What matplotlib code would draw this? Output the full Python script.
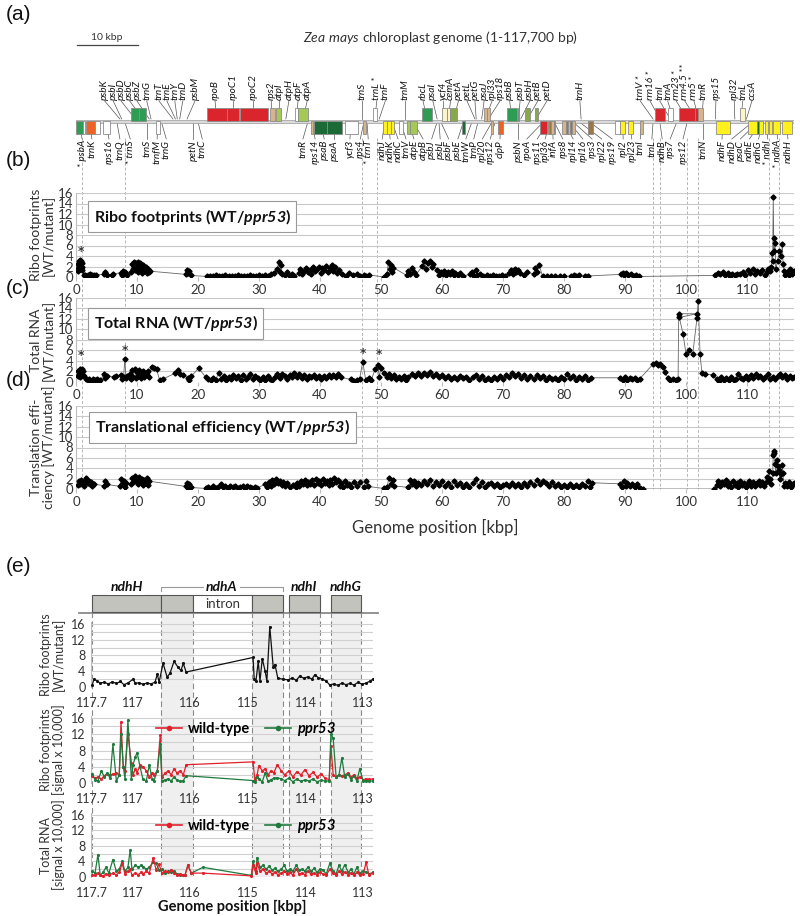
import matplotlib
matplotlib.use("Agg")
import matplotlib.pyplot as plt
from matplotlib.patches import Rectangle
from matplotlib.lines import Line2D
from matplotlib.transforms import blended_transform_factory

plt.rcParams["font.family"] = ["Lato", "DejaVu Sans"]
plt.rcParams["mathtext.fontset"] = "custom"
plt.rcParams["mathtext.rm"] = "Lato"
plt.rcParams["mathtext.it"] = "Lato:italic"
plt.rcParams["mathtext.bf"] = "Lato:bold"
plt.rcParams["mathtext.bfit"] = "Lato:bold:italic"

# ---------- GENE MAP (kbp) ----------

GENOME_LEN = 117.7

up_box_start = [9.0, 10.4, 21.5, 24.7, 26.9, 31.8, 32.8, 35.9, 36.4, 48.7, 56.7, 60.0, 60.8, 61.3, 66.9, 67.4,
                70.6, 72.4, 73.6, 75.2, 94.9, 97.0, 98.9, 101.5, 102.0, 108.8]
up_box_end = [10.4, 11.5, 24.7, 26.7, 31.5, 32.6, 33.6, 36.4, 38.0, 49.3, 58.4, 60.8, 61.3, 62.5, 67.4, 67.9,
              72.3, 72.7, 74.4, 75.7, 96.6, 97.9, 101.5, 101.9, 102.8, 109.7]
up_box_col = ["G", "G", "R", "R", "R", "T", "LG", "W", "LG", "W", "G", "LY", "LY", "OL", "T", "T",
              "G", "DG", "OL", "OL", "R", "W", "R", "R", "T", "LY"]

lo_box_start = [0.0, 1.2, 1.6, 3.1, 4.4, 13.1, 38.5, 39.0, 41.1, 44.1, 47.0, 50.3, 50.9, 51.6, 52.9, 54.2,
                54.8, 63.3, 68.1, 69.2, 76.1, 77.3, 77.6, 77.9, 78.3, 79.7, 80.3, 80.6, 81.0, 81.3, 83.9,
                88.4, 89.2, 90.5, 92.5, 104.9, 110.2, 111.7, 112.0, 112.9, 113.6, 114.3, 115.7]
lo_box_end = [1.1, 1.5, 3.1, 3.9, 5.6, 13.8, 38.9, 41.1, 43.6, 46.2, 47.5, 50.9, 51.6, 52.1, 53.6, 54.8,
              55.9, 63.8, 68.4, 70.0, 77.2, 77.6, 77.9, 78.3, 78.6, 80.3, 80.6, 81.0, 81.3, 81.8, 84.7,
              89.2, 90.0, 91.3, 93.0, 107.2, 111.6, 111.9, 112.6, 113.4, 114.1, 115.4, 117.4]
lo_box_col = ["G", "W", "O", "W", "W", "W", "T", "DG", "DG", "W", "T", "Y", "Y", "Y", "W", "LG",
              "LG", "DG", "T", "O", "R", "T", "BR", "T", "BR", "T", "BR", "T", "BR", "T", "BR",
              "W", "Y", "Y", "T", "Y", "Y", "DG", "Y", "Y", "Y", "Y", "Y"]

up_names = ["psbK", "psbI", "psbD", "psbC", "psbZ", "trnG", "trnT", "trnE", "trnY", "trnD", "psbM", "rpoB",
            "rpoC1", "rpoC2", "rps2", "atpI", "atpH", "atpF", "atpA", "trnS", "trnL *", "trnF", "trnM",
            "rbcL", "psaI", "ycf4", "cemA", "petA", "petL", "petG", "psaJ", "rpl33", "rps18", "psbB",
            "psbT", "psbH", "petB", "petD", "trnH", "trnV *", "rrn16 *", "trnI", "trnA", "rrn23 *",
            "rrn4.5 **", "rrn5 *", "trnR", "rps15", "rpl32", "trnL", "ccsA"]
up_label_x = [4.7, 6.1, 7.4, 8.8, 10.0, 11.6, 13.6, 14.9, 16.2, 17.5, 19.5, 22.8, 25.7, 29.0, 32.0, 33.4,
              34.9, 36.4, 37.9, 46.9, 49.3, 50.7, 53.9, 56.9, 58.5, 60.2, 61.4, 62.7, 64.1, 65.4, 66.9,
              68.2, 69.5, 71.1, 72.8, 74.4, 75.7, 77.2, 82.6, 92.5, 94.1, 95.7, 97.0, 98.4, 99.8, 101.3,
              102.8, 104.9, 107.9, 109.3, 110.8]
up_gene_x = [7.2, 7.5, 9.7, 11.0, 12.0, 12.3, 15.9, 16.3, 16.6, 17.0, 18.2, 23.0, 25.7, 29.0, 32.2, 33.2,
             34.4, 36.1, 37.2, 46.9, 49.0, 49.7, 53.9, 57.5, 59.2, 60.4, 61.0, 61.9, 65.4, 65.6, 66.5,
             67.1, 67.6, 71.4, 72.5, 72.9, 74.0, 75.4, 82.8, 94.6, 95.7, 97.4, 97.9, 100.2, 101.7, 102.1,
             102.6, 104.8, 108.0, 109.0, 109.9]

lo_names = ["* psbA", "trnK", "rps16", "trnQ", "* trnS", "trnS", "trnfM", "trnG", "petN", "trnC", "trnR",
            "rps14", "psaB", "psaA", "ycf3", "rps4", "* trnT", "ndhJ", "ndhK", "ndhC", "trnV", "atpE",
            "atpB", "psbJ", "psbL", "psbF", "psbE", "trnW", "trnP", "rpl20", "rps12", "clpP", "psbN",
            "rpoA", "rps11", "rpl36", "infA", "rps8", "rpl14", "rpl16", "rps3", "rpl22", "rps19", "rpl2",
            "rpl23", "trnI", "trnL", "ndhB", "rps7", "rps12", "trnN", "ndhF", "ndhD", "psaC", "ndhE",
            "ndhG", "* ndhI", "* ndhA", "ndhH"]
lo_label_x = [1.0, 2.6, 5.4, 7.2, 8.9, 11.6, 13.3, 14.8, 19.2, 20.7, 37.2, 39.2, 40.7, 42.3, 44.9, 46.6,
              47.9, 50.2, 51.5, 52.8, 54.1, 55.4, 56.9, 58.3, 59.7, 61.1, 62.6, 63.9, 65.2, 66.6, 67.9,
              69.5, 72.5, 73.9, 75.6, 76.9, 78.2, 79.8, 81.5, 83.1, 84.6, 86.2, 87.9, 89.7, 91.1, 92.5,
              94.4, 96.1, 97.4, 99.5, 102.8, 105.9, 107.5, 108.9, 110.4, 111.9, 113.4, 115.0, 116.7]
lo_gene_x = [0.5, 2.3, 5.0, 6.7, 8.0, 11.6, 13.4, 14.0, 19.2, 20.0, 38.0, 38.7, 40.0, 42.3, 45.1, 47.2,
             47.7, 50.6, 51.2, 51.8, 53.2, 54.5, 55.3, 59.2, 59.5, 59.8, 63.5, 64.9, 65.9, 68.2, 68.7,
             69.6, 72.5, 76.6, 77.4, 77.7, 78.1, 78.4, 80.0, 80.8, 81.5, 82.5, 84.2, 89.6, 90.9, 92.7,
             94.6, 95.7, 98.5, 100.2, 102.8, 106.0, 110.9, 111.8, 112.3, 112.5, 113.2, 114.8, 116.5]

guide_x = [1.0, 8.0, 46.9, 49.3, 94.6, 95.7, 100.2, 102.0, 113.6, 115.2]

GENE_COLORS = {"G": "#2e9c52", "DG": "#1c6b36", "R": "#d9252b", "O": "#ee6325", "T": "#d8b48a",
               "LG": "#a5c956", "OL": "#88a94a", "Y": "#fff01e", "LY": "#fbf5c9", "BR": "#9c7549",
               "W": "white"}

# ---------- (b) RIBO FOOTPRINTS WT/ppr53 ----------

ribo_pos = [0.3, 0.35, 0.4, 0.45, 0.5, 0.55, 0.6, 0.65, 0.7, 0.75, 0.8, 0.85, 0.9, 0.95, 1.0, 1.05,
            1.3, 1.5, 1.7, 1.9, 2.1, 2.3, 2.5, 2.7, 2.9, 3.1, 3.3,
            4.6, 4.8, 5.0, 5.9, 6.1, 7.3, 7.5, 7.7, 7.9, 8.1, 8.3,
            9.0, 9.2, 9.4, 9.5, 9.6, 9.7, 9.8, 9.9, 10.0, 10.1, 10.2, 10.3,
            10.4, 10.5, 10.6, 10.7, 10.8, 10.9, 11.0, 11.2, 11.4, 11.6, 11.8, 12.0, 12.2,
            18.0, 18.2, 18.4, 18.6, 18.8,
            21.5, 22.0, 22.5, 23.0, 23.5, 24.0, 24.5, 25.0, 25.5, 26.0, 26.5, 27.0,
            27.5, 28.0, 28.5, 29.0, 29.5, 30.0, 30.5, 31.0, 31.5, 32.0, 32.5,
            33.0, 33.2, 33.4, 33.6, 33.8, 34.2, 34.6, 35.0, 35.4, 35.8,
            36.5, 36.8, 37.1, 37.4, 37.7, 38.0, 38.3, 38.6, 38.9, 39.2, 39.5, 39.8,
            40.1, 40.4, 40.7, 41.0, 41.3, 41.6, 41.9, 42.2, 42.5, 42.8, 43.1,
            43.6, 44.2, 44.8, 45.4, 46.0, 46.6, 47.2, 47.6, 48.0, 50.5,
            51.0, 51.2, 51.4, 51.6, 51.8, 52.0, 54.2, 54.5, 54.8, 55.1, 55.4, 55.7,
            56.8, 57.1, 57.4, 57.7, 58.0, 58.3, 58.6,
            59.2, 59.5, 59.8, 60.1, 60.4, 60.7, 61.0, 61.3, 61.6, 61.9, 62.2, 62.6, 63.0, 63.4,
            64.6, 64.9, 65.2, 65.5, 65.8, 66.3, 66.8, 67.3, 67.8, 68.3, 68.8, 69.3, 69.8, 70.3,
            71.0, 71.3, 71.6, 71.9, 72.2, 72.5, 72.8, 73.5, 74.0, 75.0, 75.3, 75.6, 75.9,
            76.5, 77.2, 77.9, 78.6, 79.3, 80.0, 81.2, 81.6, 82.0, 82.4, 83.4, 84.0,
            89.3, 89.6, 89.9, 90.2, 90.5, 91.0, 91.4, 91.8, 92.3,
            104.8, 105.2, 105.6, 106.0, 106.4, 106.8, 107.2, 107.6, 108.0, 108.4,
            108.9, 109.3, 109.7, 110.1, 110.5, 110.9, 111.3, 111.7, 112.1, 112.5, 112.9,
            113.2, 113.5, 113.8, 114.0, 114.1, 114.2, 114.3, 114.4, 114.5, 114.6, 114.7,
            115.0, 115.3, 115.6, 115.8, 115.9, 116.1, 116.3, 116.6, 116.9, 117.1, 117.3, 117.5, 117.7]
ribo_val = [1.2, 2.4, 1.8, 3.0, 2.1, 2.7, 1.5, 3.3, 2.2, 2.9, 1.7, 2.5, 3.1, 1.9, 2.6, 1.3,
            0.4, 0.3, 0.2, 0.4, 0.3, 0.5, 0.2, 0.3, 0.4, 0.2, 0.3,
            0.6, 1.0, 0.4, 0.3, 0.6, 0.8, 0.3, 1.2, 0.6, 1.0, 0.4,
            1.0, 2.5, 1.6, 2.9, 2.0, 1.3, 2.7, 1.8, 2.3, 0.9, 2.8, 1.5,
            2.1, 2.6, 1.2, 2.4, 1.9, 0.8, 2.2, 1.4, 2.0, 0.7, 1.6, 0.9, 1.1,
            0.5, 1.4, 0.8, 1.2, 0.3,
            0.1, 0.2, 0.1, 0.3, 0.1, 0.2, 0.3, 0.1, 0.2, 0.1, 0.3, 0.2,
            0.1, 0.2, 0.3, 0.1, 0.2, 0.3, 0.2, 0.3, 0.2, 0.5, 0.8,
            1.5, 2.8, 1.0, 2.2, 0.6, 0.3, 1.0, 0.2, 0.6, 0.1,
            0.8, 1.5, 0.6, 1.2, 1.8, 0.9, 1.4, 0.5, 1.9, 1.1, 1.6, 2.0,
            0.7, 1.8, 1.3, 2.1, 0.9, 1.7, 2.2, 1.2, 1.9, 0.8, 1.4,
            0.6, 0.2, 0.8, 0.3, 0.5, 0.2, 0.3, 0.1, 0.4, 0.0,
            0.6, 2.9, 1.5, 2.3, 0.9, 1.8, 0.3, 1.2, 0.6, 1.7, 0.9, 0.4,
            2.1, 3.0, 1.6, 2.6, 3.0, 2.0, 2.4,
            1.3, 0.4, 1.0, 0.6, 1.2, 0.3, 0.9, 0.5, 1.1, 0.4, 0.8, 0.3, 0.7, 0.2,
            0.5, 1.0, 0.2, 1.3, 0.3, 0.6, 0.2, 0.4, 0.1, 0.3, 0.2, 0.1, 0.3, 0.2,
            0.8, 1.4, 0.6, 1.6, 1.0, 1.3, 0.7, 0.4, 0.9, 0.6, 1.8, 1.0, 2.3,
            0.1, 0.1, 0.1, 0.1, 0.1, 0.1, 0.2, 0.4, 0.1, 0.3, 0.1, 0.2,
            0.5, 0.8, 0.3, 0.7, 0.4, 0.6, 0.2, 0.4, 0.1,
            0.3, 0.8, 0.5, 0.9, 0.4, 0.7, 0.2, 0.6, 0.3, 0.5,
            0.6, 1.0, 0.3, 1.3, 0.8, 1.5, 0.5, 1.2, 0.7, 1.4, 0.4,
            1.0, 1.5, 1.2, 2.0, 4.5, 3.0, 15.3, 5.0, 7.4, 6.5, 1.5,
            3.0, 5.0, 4.0, 6.3, 2.5, 1.2, 0.4, 1.0, 0.3, 1.5, 0.5, 0.9, 1.2]

# ---------- (c) TOTAL RNA WT/ppr53 ----------

rna_pos = [0.3, 0.4, 0.5, 0.6, 0.7, 0.8, 0.9, 1.0, 1.1, 1.2, 1.3,
           1.6, 1.9, 2.2, 2.5, 2.8, 3.1, 3.4, 3.7, 4.0,
           4.6, 4.8, 5.0, 6.2, 6.6, 7.4, 7.6, 7.8, 8.0, 8.2, 8.4,
           8.8, 9.0, 9.2, 9.4, 9.6, 9.8, 10.0, 10.2, 10.4,
           10.6, 10.8, 11.0, 11.2, 11.4, 11.6, 11.8, 12.0,
           12.4, 12.8, 13.2, 13.7, 14.3, 16.3, 16.7, 17.1, 17.6, 18.3, 18.6, 18.9, 20.1,
           21.3, 21.7, 22.1, 22.5, 22.9, 23.4, 23.8, 24.2, 24.6, 25.0, 25.4, 25.8,
           26.2, 26.6, 27.0, 27.4, 27.8, 28.2, 28.6, 29.0, 29.4, 29.8, 30.2, 30.6,
           31.0, 31.4, 31.8, 32.2, 32.6, 33.0, 33.4, 33.8, 34.2, 34.6, 35.0, 35.4,
           35.8, 36.2, 36.6, 37.0, 37.4, 37.8, 38.2, 38.6, 39.0, 39.4, 39.8, 40.2,
           40.6, 41.0, 41.4, 41.8, 42.2, 42.6, 43.0, 43.4,
           45.0, 45.5, 46.0, 46.5, 47.0, 47.5, 48.0, 48.4, 49.0, 49.5, 49.7, 50.0,
           50.5, 50.9, 51.3, 51.7, 52.1, 52.5, 52.9, 53.3, 53.7, 54.1,
           54.5, 55.0, 55.5, 56.0, 56.5, 57.0, 57.5, 58.0, 58.5, 59.0, 59.5, 60.0,
           60.5, 61.0, 61.5, 62.0, 62.5, 63.0, 63.5, 64.0, 64.5, 65.0, 65.5, 66.0,
           66.5, 67.0, 67.5, 68.0, 68.5, 69.0, 69.5, 70.0, 70.5, 71.0, 71.5, 72.0,
           72.5, 73.0, 73.5, 74.0, 74.5, 75.0, 75.5, 76.0, 76.5, 77.0, 77.5, 78.0,
           78.5, 79.0, 79.5, 80.0, 80.5, 81.0, 81.5, 82.0, 82.5, 83.0, 83.5, 84.0, 84.5,
           89.2, 89.6, 90.0, 90.4, 90.8, 91.2, 91.6, 92.0, 92.4,
           94.6, 95.0, 95.4, 95.8, 96.2, 96.6, 97.0, 97.4, 97.8, 98.3, 98.7,
           98.8, 101.8, 98.9, 99.5, 100.0, 100.5, 101.1, 101.8, 102.0, 102.3, 102.6, 103.1, 104.4,
           105.0, 105.4, 105.8, 106.2, 106.6, 107.0, 107.4, 107.8, 108.2, 108.6, 109.0, 109.4,
           109.8, 110.2, 110.6, 111.0, 111.4, 111.8, 112.2, 112.6, 113.0, 113.4, 113.8, 114.2,
           114.6, 115.0, 115.4, 115.8, 116.2, 116.6, 117.0, 117.4, 117.7]
rna_val = [1.2, 2.0, 1.5, 2.4, 1.0, 2.2, 1.6, 2.5, 1.3, 2.0, 1.1,
           0.6, 0.3, 0.5, 0.2, 0.6, 0.3, 0.5, 0.2, 0.4,
           1.5, 0.7, 1.2, 1.0, 1.1, 1.3, 0.6, 1.0, 4.3, 0.8, 1.2,
           1.5, 0.6, 2.2, 1.0, 2.5, 0.8, 1.9, 1.2, 2.3,
           0.7, 1.6, 2.0, 0.9, 1.8, 1.3, 2.1, 1.0,
           2.9, 2.6, 2.4, 0.4, 0.6, 1.7, 2.3, 1.6, 1.4, 0.8, 0.4, 1.1, 2.6,
           0.9, 0.6, 0.3, 0.8, 0.4, 1.8, 0.6, 1.2, 0.4, 1.0, 0.5, 1.4,
           0.7, 1.1, 0.4, 1.3, 0.6, 1.0, 1.6, 0.5, 1.2, 0.7, 0.3, 0.9,
           0.4, 1.1, 0.6, 0.3, 1.0, 1.5, 0.8, 1.6, 1.1, 0.6, 1.4, 0.9,
           1.7, 1.0, 1.5, 0.8, 1.3, 0.6, 1.2, 0.9, 1.4, 0.7, 1.1, 0.5,
           1.2, 0.8, 1.3, 0.9, 1.4, 1.0, 1.5, 0.9,
           0.5, 0.2, 0.4, 0.6, 3.9, 0.3, 0.8, 0.3, 2.4, 3.2, 1.0, 2.6,
           1.8, 1.0, 1.5, 0.7, 1.3, 0.5, 1.0, 0.6, 1.2, 0.4,
           1.0, 1.5, 1.2, 1.8, 1.1, 1.7, 1.3, 1.9, 1.2, 1.6, 1.0, 1.4,
           0.8, 1.2, 0.6, 1.0, 0.5, 1.1, 0.7, 1.0, 0.4, 0.9, 1.3, 0.5,
           1.1, 0.3, 0.8, 0.4, 1.0, 0.5, 1.2, 0.6, 1.4, 0.9, 1.7, 1.1,
           1.5, 0.8, 1.3, 0.5, 1.1, 0.6, 1.4, 0.7, 1.2, 0.4, 1.0, 0.5,
           0.8, 0.3, 0.9, 0.5, 1.6, 0.7, 1.1, 0.4, 1.0, 0.6, 1.2, 0.4, 0.8,
           0.8, 0.3, 0.9, 0.4, 0.7, 0.5, 0.8, 0.4, 0.6,
           3.4, 3.7, 3.3, 3.4, 2.9, 1.9, 0.8, 0.4, 0.6, 0.4, 0.6,
           13.0, 13.0, 12.3, 9.2, 5.3, 6.0, 5.3, 12.2, 15.5, 5.3, 1.8, 1.5, 1.4,
           0.6, 0.2, 0.9, 0.3, 0.7, 0.4, 1.0, 0.3, 0.6, 1.6, 0.8, 0.5,
           1.1, 0.6, 1.3, 0.8, 1.6, 0.9, 1.2, 0.5, 1.0, 1.5, 0.6, 1.0,
           0.5, 1.2, 1.6, 0.9, 1.3, 0.5, 1.2, 0.8, 1.0]

# ---------- (d) TRANSLATIONAL EFFICIENCY WT/ppr53 ----------

te_pos = [0.3, 0.5, 0.7, 0.9, 1.1, 1.3, 1.5, 1.7, 1.9, 2.1, 2.3, 2.5, 2.7, 2.9,
          4.6, 4.8, 5.0, 7.2, 7.4, 7.6, 7.8, 8.0, 8.2,
          9.0, 9.2, 9.4, 9.6, 9.8, 10.0, 10.2, 10.4, 10.6, 10.8, 11.0, 11.2, 11.4, 11.6, 11.8, 12.0,
          18.0, 18.2, 18.4, 18.6, 18.8,
          21.3, 21.7, 22.1, 22.5, 22.9, 23.3, 23.7, 24.1, 24.5, 24.9, 25.3,
          25.7, 26.1, 26.5, 26.9, 27.3, 27.7, 28.1, 28.5, 28.9, 29.3, 29.7,
          31.0, 31.3, 31.6, 31.9, 32.2, 32.5, 32.8, 33.1, 33.4, 33.7, 34.0, 34.3, 34.6, 35.0, 35.5, 36.0,
          36.3, 36.6, 36.9, 37.2, 37.5, 37.8, 38.1, 38.4, 38.7, 39.0, 39.3, 39.6,
          39.9, 40.2, 40.5, 40.8, 41.1, 41.4, 41.7, 42.0, 42.3, 42.6, 42.9, 43.2,
          43.5, 43.8, 44.1, 44.4, 44.7, 45.0, 45.5, 46.0, 46.5, 47.2, 47.5, 47.8,
          50.5, 51.0, 51.3, 51.6, 51.9, 52.2, 54.5, 54.8, 55.1, 55.4, 55.7, 56.0,
          56.5, 57.0, 57.5, 58.0, 58.5, 59.0, 59.5, 60.0, 60.5, 61.0, 61.5, 62.0,
          62.5, 63.0, 63.5, 64.0, 64.5, 65.0, 65.5, 66.0, 66.5, 67.0, 67.5, 68.0,
          68.5, 69.0, 69.5, 70.0, 70.5, 71.0, 71.5, 72.0, 72.5, 73.0, 73.5, 74.0,
          74.5, 75.0, 75.5, 76.0, 76.5, 77.0, 77.5, 78.0, 78.5, 79.0, 79.5, 80.0,
          80.5, 81.0, 81.5, 82.0, 82.5, 83.0, 83.5, 84.0, 84.3, 84.6,
          89.2, 89.5, 89.8, 90.1, 90.4, 90.8, 91.2, 91.6, 92.0, 92.4, 93.0, 104.6,
          105.0, 105.3, 105.6, 105.9, 106.2, 106.5, 106.8, 107.1, 107.4, 107.7, 108.0, 108.3,
          108.6, 108.9, 109.2, 109.5, 109.8, 110.1, 110.4, 110.7, 111.0, 111.3, 111.6, 111.9,
          112.2, 112.5, 112.8, 113.0, 113.2, 113.4, 113.6, 113.8, 114.0, 114.2, 114.3, 114.4,
          114.5, 114.6, 114.7, 114.9, 115.0, 115.2, 115.4, 115.6, 115.8, 115.9, 116.0, 116.3,
          116.6, 116.9, 117.2, 117.5, 117.7]
te_val = [0.8, 1.5, 1.0, 1.8, 1.2, 0.6, 1.4, 2.2, 1.1, 1.6, 0.9, 1.3, 0.6, 1.0,
          0.6, 1.6, 0.9, 0.5, 2.0, 1.0, 1.6, 0.4, 1.2,
          1.0, 2.2, 1.4, 2.6, 1.6, 2.0, 0.9, 2.4, 1.3, 2.0, 0.8, 1.7, 1.1, 2.1, 0.7, 1.5,
          0.5, 1.2, 0.2, 0.9, 0.3,
          0.1, 0.3, 0.1, 0.6, 0.2, 0.4, 0.9, 0.3, 0.5, 0.2, 0.6,
          0.3, 0.5, 0.1, 0.4, 0.6, 0.2, 0.5, 0.3, 0.1, 0.4, 0.2,
          0.9, 0.3, 1.4, 0.6, 1.8, 1.0, 2.0, 1.2, 1.6, 0.7, 1.3, 0.5, 1.1, 0.4, 0.8, 0.3,
          1.2, 0.6, 1.5, 0.9, 1.8, 0.7, 1.4, 1.0, 1.7, 0.8, 2.0, 1.1,
          1.6, 0.7, 1.9, 1.2, 1.5, 0.8, 1.8, 1.0, 2.2, 1.3, 1.7, 0.6,
          1.2, 0.4, 1.5, 0.8, 1.0, 0.3, 1.4, 0.6, 1.3, 0.3, 1.5, 0.5,
          0.1, 0.4, 2.2, 1.0, 1.7, 0.6, 0.3, 1.8, 1.0, 1.5, 0.5, 1.2,
          0.8, 1.5, 0.9, 1.7, 0.6, 1.3, 0.8, 1.6, 0.5, 1.2, 0.4, 1.5,
          0.7, 1.1, 0.3, 0.9, 0.4, 1.2, 1.9, 0.6, 1.4, 0.4, 0.9, 1.2,
          0.5, 1.0, 0.3, 0.8, 1.0, 0.6, 1.2, 0.5, 0.9, 0.4, 1.1, 0.6,
          1.4, 0.7, 1.8, 0.9, 1.6, 1.2, 0.5, 1.3, 0.6, 1.0, 0.3, 0.7,
          0.4, 1.0, 0.3, 0.8, 0.4, 0.9, 0.5, 1.6, 0.4, 1.2,
          1.0, 0.4, 1.5, 0.6, 1.2, 0.5, 1.0, 0.4, 0.9, 0.2, 0.0, 0.0,
          0.8, 1.6, 0.6, 1.4, 0.9, 1.7, 0.5, 1.2, 0.4, 1.5, 0.8, 1.1,
          0.3, 1.6, 0.7, 1.2, 0.4, 1.0, 1.5, 0.6, 1.3, 0.5, 1.1, 1.6,
          0.8, 1.3, 0.6, 1.2, 2.4, 1.5, 3.5, 2.0, 1.0, 3.0, 6.5, 7.4,
          7.0, 4.8, 3.0, 5.6, 4.5, 3.6, 2.0, 2.8, 4.6, 3.0, 0.5, 1.2,
          0.6, 1.4, 0.4, 0.9, 1.1]

# ---------- (e) ndhH-ndhG REGION ----------

e_box_start = [117.70, 116.50, 115.95, 114.93, 114.29, 113.56]
e_box_end = [116.50, 115.95, 114.93, 114.39, 113.75, 113.04]
e_box_intron = [False, False, True, False, False, False]
e_gene_names = ["ndhH", "ndhA", "ndhI", "ndhG"]
e_gene_mid = [117.10, 115.45, 114.02, 113.30]
e_shade_start = [116.50, 114.93, 114.29, 113.56]
e_shade_end = [115.95, 114.39, 113.75, 113.04]
e_bounds = [117.70, 116.50, 115.95, 114.93, 114.39, 114.29, 113.75, 113.56, 113.04]

e_ratio_pos = [117.70, 117.67, 117.61, 117.56, 117.49, 117.42, 117.35, 117.28, 117.21, 117.15,
               117.08, 116.99, 116.95, 116.89, 116.82, 116.75, 116.68, 116.61, 116.57, 116.54,
               116.47, 116.40, 116.35, 116.28, 116.21, 116.16, 116.12, 116.07, 114.91, 114.89,
               114.86, 114.82, 114.79, 114.75, 114.70, 114.67, 114.62, 114.56, 114.53, 114.48,
               114.39, 114.30, 114.23, 114.16, 114.10, 114.03, 113.96, 113.89, 113.84, 113.78,
               113.71, 113.64, 113.58, 113.51, 113.44, 113.37, 113.30, 113.23, 113.16, 113.09,
               113.02, 112.95, 112.88, 112.83]
e_ratio_val = [0.4, 2.0, 1.5, 1.0, 1.2, 0.8, 1.3, 0.9, 1.4, 0.6,
               1.0, 2.0, 0.9, 1.1, 0.7, 1.0, 0.8, 1.2, 3.3, 1.2,
               6.0, 2.5, 3.5, 6.5, 5.0, 4.2, 6.0, 3.8, 7.5, 2.0,
               1.5, 6.5, 1.5, 7.2, 4.0, 1.5, 15.3, 5.0, 5.7, 2.2,
               2.0, 1.8, 2.3, 1.7, 2.8, 2.2, 2.6, 2.0, 3.1, 2.4,
               2.0, 1.5, 0.5, 0.8, 0.4, 1.0, 0.6, 0.9, 0.5, 1.2,
               0.7, 1.0, 1.5, 2.0]

e_ribo_pos = [117.70, 117.65, 117.60, 117.54, 117.49, 117.44, 117.39, 117.34, 117.28, 117.23,
              117.20, 117.16, 117.13, 117.08, 117.02, 116.99, 116.95, 116.92, 116.87, 116.82,
              116.76, 116.71, 116.66, 116.63, 116.57, 116.52, 116.49, 116.43, 116.38, 116.33,
              116.28, 116.23, 116.17, 116.12, 116.07, 114.91, 114.88, 114.84, 114.81, 114.75,
              114.70, 114.65, 114.60, 114.55, 114.49, 114.42, 114.36, 114.29, 114.22, 114.15,
              114.08, 114.01, 113.94, 113.87, 113.80, 113.73, 113.66, 113.59, 113.56, 113.52,
              113.47, 113.42, 113.37, 113.32, 113.26, 113.21, 113.16, 113.11, 113.06, 113.00,
              112.95, 112.90, 112.83]
e_ribo_wt = [1.8, 1.2, 1.5, 1.0, 1.8, 2.2, 2.0, 2.2, 2.5, 2.0,
             15.0, 4.0, 3.0, 12.0, 5.0, 2.0, 3.5, 2.5, 4.5, 4.0,
             3.0, 1.5, 2.5, 2.0, 3.0, 11.7, 1.5, 2.5, 3.0, 2.0,
             3.5, 2.5, 3.0, 2.0, 4.5, 5.2, 0.8, 2.0, 4.3, 3.0,
             3.5, 2.0, 3.0, 2.5, 4.5, 3.0, 2.0, 3.0, 1.5, 2.8,
             2.0, 3.3, 1.8, 2.6, 1.5, 2.2, 1.2, 0.8, 9.0, 2.0,
             1.5, 2.0, 1.8, 2.0, 2.5, 1.5, 2.0, 1.2, 1.5, 0.8,
             1.0, 0.9, 1.0]
e_ribo_mut = [2.2, 0.8, 0.5, 3.0, 1.5, 2.5, 1.2, 9.5, 0.5, 2.0,
              12.0, 4.0, 1.0, 15.5, 1.0, 4.5, 6.5, 7.5, 4.0, 1.0,
              0.5, 4.5, 1.0, 0.5, 3.0, 9.5, 0.5, 0.8, 1.0, 0.5,
              1.5, 0.7, 0.4, 0.6, 1.8, 0.6, 0.3, 1.5, 1.0, 0.3,
              2.5, 0.4, 0.8, 1.2, 1.3, 1.0, 0.6, 1.2, 0.3, 1.0,
              0.4, 0.8, 0.5, 1.0, 0.3, 0.7, 0.5, 0.5, 12.0, 11.0,
              1.5, 2.0, 6.2, 1.5, 2.2, 0.8, 1.8, 0.5, 3.5, 0.5,
              0.6, 0.5, 0.5]

e_rna_pos = [117.70, 117.65, 117.60, 117.56, 117.51, 117.46, 117.41, 117.34, 117.28, 117.23,
             117.18, 117.13, 117.08, 117.04, 117.01, 116.95, 116.90, 116.85, 116.82, 116.76,
             116.71, 116.64, 116.59, 116.54, 116.49, 116.43, 116.38, 116.33, 116.28, 116.23,
             116.17, 116.12, 116.09, 116.04, 115.98, 115.78, 114.94, 114.91, 114.86, 114.84,
             114.79, 114.74, 114.68, 114.63, 114.58, 114.53, 114.48, 114.42, 114.37, 114.32,
             114.27, 114.22, 114.16, 114.11, 114.06, 114.01, 113.96, 113.90, 113.85, 113.80,
             113.75, 113.70, 113.64, 113.58, 113.52, 113.47, 113.42, 113.37, 113.32, 113.26,
             113.21, 113.16, 113.11, 113.06, 113.00, 112.95, 112.90, 112.83]
e_rna_wt = [0.5, 0.4, 1.0, 0.5, 0.3, 0.8, 0.5, 1.0, 0.5, 1.2,
            3.5, 0.8, 1.5, 2.0, 0.5, 1.0, 0.6, 1.2, 0.7, 1.5,
            1.0, 5.0, 1.7, 3.3, 1.0, 1.5, 1.2, 1.8, 1.0, 0.5,
            0.8, 0.5, 0.5, 3.0, 1.0, 1.0, 0.3, 3.0, 1.0, 3.5,
            1.5, 2.0, 1.0, 1.5, 0.8, 1.2, 0.6, 1.0, 1.5, 0.8,
            1.2, 0.5, 2.0, 0.8, 1.0, 0.6, 1.5, 0.7, 1.0, 0.5,
            1.2, 0.8, 0.5, 2.0, 1.0, 0.5, 1.5, 0.8, 1.2, 0.6,
            1.0, 0.4, 1.2, 0.5, 0.8, 3.8, 0.5, 1.0]
e_rna_mut = [1.5, 1.0, 5.8, 0.5, 1.2, 2.5, 1.0, 4.5, 1.5, 2.0,
             4.0, 1.5, 2.5, 7.0, 2.0, 3.0, 2.5, 3.0, 2.7, 2.0,
             2.5, 3.8, 3.5, 1.8, 2.0, 1.0, 1.5, 1.2, 1.6, 0.8,
             0.5, 0.6, 0.5, 3.0, 1.0, 2.5, 0.4, 4.0, 1.5, 5.0,
             2.5, 3.0, 2.0, 2.8, 1.8, 2.2, 1.5, 2.0, 3.0, 1.5,
             2.0, 1.5, 3.0, 1.8, 2.0, 1.5, 2.5, 1.5, 2.2, 1.2,
             2.0, 1.8, 0.8, 3.5, 1.5, 0.8, 3.0, 1.5, 3.2, 1.2,
             2.0, 0.8, 2.5, 1.0, 1.5, 1.2, 0.8, 1.2]

WT_RED = "#e2202c"
MUT_GREEN = "#1f7a3e"
GRID = "#c9c9c9"
TXT = "#333333"

# ---------- LAYOUT HELPERS ----------

W, H = 800, 916
fig = plt.figure(figsize=(W / 100, H / 100), dpi=100)


def add_ax(x0, y0, x1, y1):
    # axes from pixel box (top-left origin)
    return fig.add_axes([x0 / W, 1 - y1 / H, (x1 - x0) / W, (y1 - y0) / H])


def fy(y):
    return 1 - y / H


def track_style(ax, ylabel):
    ax.set_facecolor("none")
    ax.set_xlim(0, GENOME_LEN)
    ax.set_ylim(0, 16)
    ax.set_yticks(range(0, 17, 2))
    ax.set_xticks(range(0, 111, 10))
    ax.grid(axis="y", color=GRID, lw=0.8)
    ax.set_axisbelow(True)
    for s in ["top", "right", "bottom"]:
        ax.spines[s].set_visible(False)
    ax.spines["left"].set_color("#bdbdbd")
    ax.tick_params(axis="y", length=0, labelsize=9.5, colors=TXT, pad=2)
    ax.tick_params(axis="x", length=3, color="#bdbdbd", labelsize=9.5, colors=TXT, pad=2)
    ax.set_ylabel(ylabel, fontsize=10, linespacing=1.0, color=TXT, labelpad=2)


def label_box(ax, x, y, title):
    ax.text(x, y, title, fontsize=11.5, fontweight="bold", va="center", ha="left", color="#111",
            bbox=dict(boxstyle="square,pad=0.35", fc="white", ec="#999999", lw=0.8), zorder=5)


# ---------- (a) GENE MAP ----------

ax_map = add_ax(76, 25, 794, 200)
ax_map.set_xlim(0, GENOME_LEN)
ax_map.set_ylim(200, 25)
ax_map.axis("off")
ax_map.plot([0.1, 10.1], [45, 45], color="#444", lw=0.9)
ax_map.text(5.1, 42, "10 kbp", ha="center", va="bottom", fontsize=7.5, color=TXT)
ax_map.text(59.7, 38, r"$\mathit{Zea\ mays}$ chloroplast genome (1-117,700 bp)",
            ha="center", va="center", fontsize=10, color=TXT)
ax_map.add_patch(Rectangle((0, 119.5), GENOME_LEN, 3, fc="#dadada", ec="#9a9a9a", lw=0.5, zorder=2))
for s, e, c in zip(up_box_start, up_box_end, up_box_col):
    ax_map.add_patch(Rectangle((s, 108), e - s, 13, fc=GENE_COLORS[c], ec="#8c8c8c", lw=0.6, zorder=3))
for s, e, c in zip(lo_box_start, lo_box_end, lo_box_col):
    ax_map.add_patch(Rectangle((s, 121), e - s, 13, fc=GENE_COLORS[c], ec="#8c8c8c", lw=0.6, zorder=3))
for name, lx, gx in zip(up_names, up_label_x, up_gene_x):
    ax_map.plot([lx, gx], [101, 119], color="#555", lw=0.5, zorder=1)
    ax_map.text(lx, 100, name, rotation=90, ha="center", va="bottom", fontsize=7.2, style="italic", color="#111")
for name, lx, gx in zip(lo_names, lo_label_x, lo_gene_x):
    ax_map.plot([gx, lx], [122, 139], color="#555", lw=0.5, zorder=1)
    ax_map.text(lx, 140, name, rotation=90, ha="center", va="top", fontsize=7.2, style="italic", color="#111")

# ---------- (b)-(d) GENOME-WIDE TRACKS ----------

ax_b = add_ax(76, 193, 794, 277)
ax_c = add_ax(76, 298, 794, 382)
ax_d = add_ax(76, 406, 794, 489)

track_style(ax_b, "Ribo footprints\n[WT/mutant]")
track_style(ax_c, "Total RNA\n[WT/mutant]")
track_style(ax_d, "Translation effi-\nciency [WT/mutant]")

for ax, xs, ys in [(ax_b, ribo_pos, ribo_val), (ax_c, rna_pos, rna_val), (ax_d, te_pos, te_val)]:
    ax.plot(xs, ys, color="#666666", lw=0.6, marker="D", ms=2.6, mfc="black", mec="black", zorder=3)

label_box(ax_b, 2.9, 11.5, r"Ribo footprints (WT/$\mathbfit{ppr53}$)")
label_box(ax_c, 2.9, 11.2, r"Total RNA (WT/$\mathbfit{ppr53}$)")
label_box(ax_d, 3.1, 11.9, r"Translational efficiency (WT/$\mathbfit{ppr53}$)")

ax_b.text(0.8, 4.3, "*", ha="center", va="center", fontsize=14, color="#222")
for sx, sy in [(0.8, 4.4), (8.0, 5.5), (47.0, 4.9), (49.6, 4.6)]:
    ax_c.text(sx, sy, "*", ha="center", va="center", fontsize=14, color="#222")

fig.text(435 / W, fy(527), "Genome position [kbp]", ha="center", va="center", fontsize=12, color=TXT)

# dashed guides from the gene map down through (b)-(d)
trans_bd = blended_transform_factory(ax_b.transData, fig.transFigure)
for gx in guide_x:
    fig.add_artist(Line2D([gx, gx], [fy(138), fy(489)], transform=trans_bd, color="#b5b5b5",
                          lw=0.7, ls=(0, (3, 2)), zorder=-1))

# ---------- (e) ZOOM ON ndhH-ndhG ----------

E_XLIM = (117.72, 112.83)
ax_eg = add_ax(91, 575, 373, 614)
ax_eg.set_xlim(*E_XLIM)
ax_eg.set_ylim(614, 575)
ax_eg.axis("off")
for s, e, intr in zip(e_box_start, e_box_end, e_box_intron):
    ax_eg.add_patch(Rectangle((e, 595), s - e, 17, fc="white" if intr else "#c3c3bd",
                              ec="#555555", lw=0.8, zorder=3))
ax_eg.text(115.44, 603.5, "intron", ha="center", va="center", fontsize=9.5, color=TXT, zorder=4)
ax_eg.plot([117.93, 112.74], [612.5, 612.5], color="#8a8a8a", lw=1.3, clip_on=False, zorder=2)
ax_eg.plot([116.50, 116.50, 114.39, 114.39], [591, 587, 587, 591], color="#999", lw=0.8, zorder=2)
for name, mx in zip(e_gene_names, e_gene_mid):
    ax_eg.text(mx, 587, name, ha="center", va="center", fontsize=10, fontweight="bold", style="italic",
               color="#111", zorder=4, bbox=dict(boxstyle="square,pad=0.15", fc="white", ec="none"))

ax_e1 = add_ax(91, 622, 373, 687)
ax_e2 = add_ax(91, 716, 373, 783)
ax_e3 = add_ax(91, 813, 373, 877)

e_ticks = [117.7, 117, 116, 115, 114, 113]
for ax, ylab in [(ax_e1, "Ribo footprints\n[WT/mutant]"),
                 (ax_e2, "Ribo footprints\n[signal x 10,000]"),
                 (ax_e3, "Total RNA\n[signal x 10,000]")]:
    ax.set_facecolor("none")
    ax.set_xlim(*E_XLIM)
    ax.set_ylim(0, 16.5)
    ax.set_yticks([0, 4, 8, 12, 16])
    ax.set_yticks(range(2, 17, 4), minor=True)
    ax.set_xticks(e_ticks)
    ax.set_xticklabels(["117.7", "117", "116", "115", "114", "113"])
    ax.grid(axis="y", which="both", color="#d0d0d0", lw=0.8)
    for s in ["top", "right", "bottom"]:
        ax.spines[s].set_visible(False)
    ax.spines["left"].set_color("#bdbdbd")
    ax.tick_params(axis="y", which="both", length=0, labelsize=9, colors=TXT, pad=4)
    ax.tick_params(axis="x", which="both", length=0, labelsize=9, colors=TXT, pad=7)
    ax.set_ylabel(ylab, fontsize=9, linespacing=1.0, color=TXT, labelpad=4)

ax_e1.plot(e_ratio_pos, e_ratio_val, color="#111", lw=0.9, marker=".", ms=2.5, zorder=3)
ax_e2.plot(e_ribo_pos, e_ribo_wt, color=WT_RED, lw=0.9, marker=".", ms=2.5, zorder=3)
ax_e2.plot(e_ribo_pos, e_ribo_mut, color=MUT_GREEN, lw=0.9, marker=".", ms=2.5, zorder=3)
ax_e3.plot(e_rna_pos, e_rna_mut, color=MUT_GREEN, lw=0.9, marker=".", ms=2.5, zorder=3)
ax_e3.plot(e_rna_pos, e_rna_wt, color=WT_RED, lw=0.9, marker=".", ms=2.5, zorder=3)

for ax in [ax_e2, ax_e3]:
    handles = [Line2D([], [], color=WT_RED, lw=1.2, marker=".", ms=6),
               Line2D([], [], color=MUT_GREEN, lw=1.2, marker=".", ms=6)]
    ax.legend(handles, ["wild-type", r"$\mathbfit{ppr53}$"], loc="center", bbox_to_anchor=(0.55, 0.8),
              ncol=2, frameon=False, prop={"weight": "bold", "size": 10.5}, handlelength=1.8,
              columnspacing=1.0, handletextpad=0.4)

fig.text(232 / W, fy(907), "Genome position [kbp]", ha="center", va="center", fontsize=10.5,
         fontweight="bold", color="#111")

trans_e = blended_transform_factory(ax_e1.transData, fig.transFigure)
for s, e in zip(e_shade_start, e_shade_end):
    fig.add_artist(Rectangle((e, fy(877)), s - e, (877 - 612) / H, transform=trans_e,
                             fc="#efefef", ec="none", zorder=-2))
for bx in e_bounds:
    fig.add_artist(Line2D([bx, bx], [fy(612), fy(877)], transform=trans_e, color="#8a8a8a",
                          lw=0.8, ls=(0, (5, 3)), zorder=-1))

# ---------- PANEL LETTERS ----------

for letter, y in [("(a)", 14), ("(b)", 160), ("(c)", 289), ("(d)", 381), ("(e)", 567)]:
    fig.text(6 / W, fy(y), letter, ha="left", va="center", fontsize=15, family="Liberation Sans", color="#111")

fig.savefig("out.png", dpi=100)
